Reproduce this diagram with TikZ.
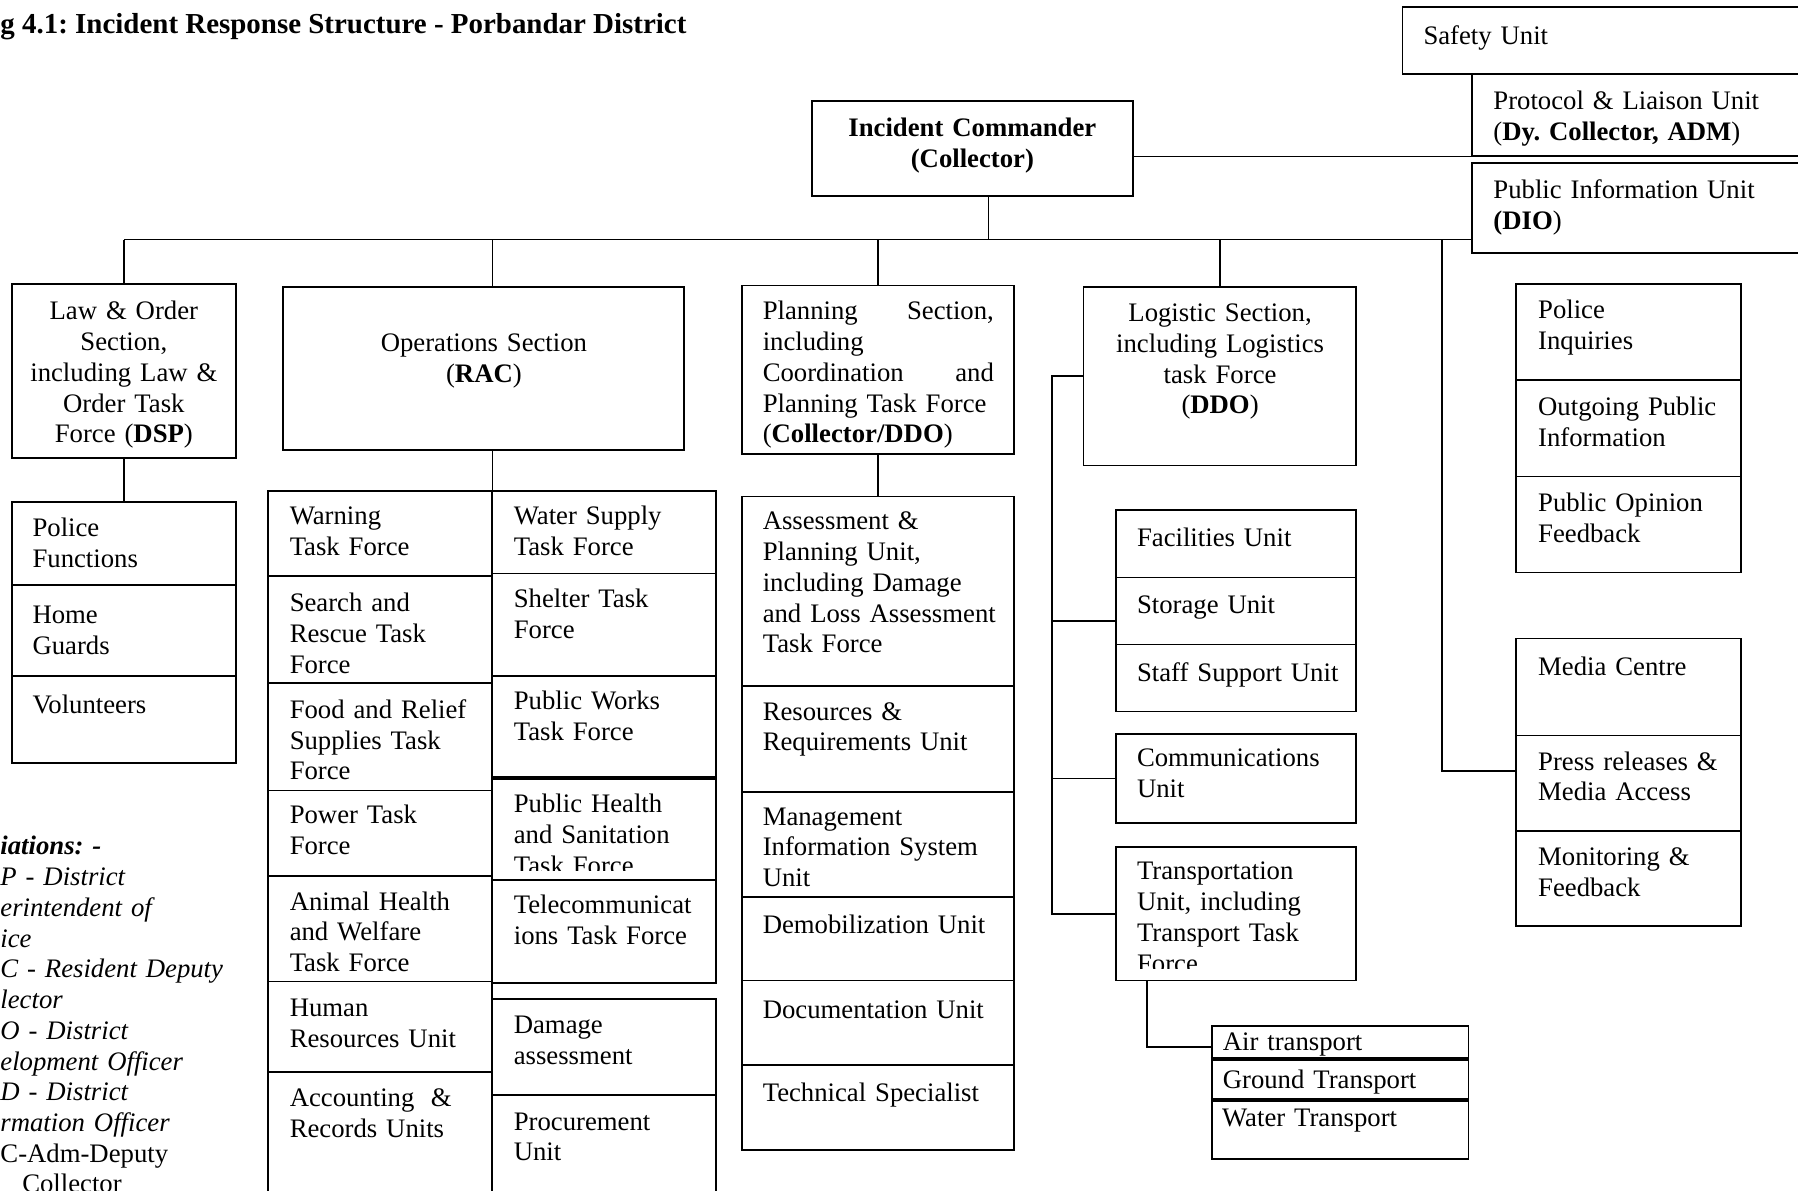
\documentclass[tikz,border=0pt]{standalone}
\usepackage{fontspec}
\setmainfont{Liberation Serif}
\usetikzlibrary{fit,calc}
\frenchspacing
\begin{document}
\begin{tikzpicture}[x=0.515pt,y=-0.515pt,
  every node/.style={inner sep=0pt, font=\fontsize{12}{13.8}\selectfont},
  cell/.style={draw, line width=0.75pt, fit={#1}},
  lt/.style={anchor=base west, align=left, text width=#1},
  ct/.style={anchor=base, align=center, text width=#1},
  link/.style={line width=0.75pt},
  sep/.style={line width=1.7pt}
]
\useasboundingbox (0,0) rectangle (1568,1038);
\clip (0,0) rectangle (1568,1038);
\fill[white] (0,0) rectangle (1568,1038);

% title
\node[anchor=base west, font=\fontsize{13}{15}\selectfont\bfseries] (title) at (0,29) {g 4.1: Incident Response Structure - Porbandar District};

% top right units
\node[cell={(1223,6.4) (1580,64.5)}] (safety) {};
\node[lt=140pt] (safety-t) at (1241,39.2) {Safety Unit};
\node[cell={(1283.4,64.5) (1580,135.8)}] (prot) {};
\node[lt=130pt] (prot-t) at (1302,95.9) {Protocol \& Liaison Unit\\(\textbf{Dy. Collector, ADM})};
\node[cell={(1283.4,141.9) (1580,220.9)}] (piu) {};
\node[lt=130pt] (piu-t) at (1302,173) {Public Information Unit\\\textbf{(DIO})};

% incident commander
\node[cell={(708,88) (988,171)}] (ic) {};
\node[ct=128pt, font=\fontsize{12}{13.8}\selectfont\bfseries] (ic-t) at (848,119) {Incident Commander\\(Collector)};

% law & order
\node[cell={(10.2,247.7) (205.8,399.7)}] (law) {};
\node[ct=98pt] (law-t) at (108,279) {Law \& Order\\Section,\\including Law \&\\Order Task\\Force (\textbf{DSP})};
\node[cell={(10.2,438) (205.8,510)}] (polf) {};
\node[lt=88pt] (polf-t) at (28,468) {Police\\Functions};
\node[cell={(10.2,510) (205.8,589.5)}] (home) {};
\node[lt=88pt] (home-t) at (28,543.6) {Home\\Guards};
\node[cell={(10.2,589.5) (205.8,665.5)}] (vol) {};
\node[lt=88pt] (vol-t) at (28,622) {Volunteers};

% abbreviations
\node[lt=118pt, font=\fontsize{12}{13.8}\selectfont\itshape] (abbr) at (0,745.6) {\textbf{iations: -}\\P - District\\erintendent of\\ice\\C - Resident Deputy\\lector\\O - District\\elopment Officer\\D - District\\rmation Officer\\\upshape C-Adm-Deputy\\\hspace*{9.8pt}Collector};

% operations
\node[cell={(247,250) (596.5,392.5)}] (ops) {};
\node[ct=150pt] (ops-t) at (422,306.7) {Operations Section\\(\textbf{RAC})};
\node[cell={(233.5,428.2) (428.8,502.3)}] (warn) {};
\node[lt=90pt] (warn-t) at (252.3,457.8) {Warning\\Task Force};
\node[cell={(233.5,502.3) (428.8,595.9)}] (sar) {};
\node[lt=90pt] (sar-t) at (252.3,533.4) {Search and\\Rescue Task\\Force};
\node[cell={(233.5,595.9) (428.8,689.5)}] (food) {};
\node[lt=90pt] (food-t) at (252.3,626.4) {Food and Relief\\Supplies Task\\Force};
\node[cell={(233.5,689.5) (428.8,764)}] (power) {};
\node[lt=90pt] (power-t) at (252.3,718) {Power Task\\Force};
\node[cell={(233.5,764) (428.8,856)}] (animal) {};
\node[lt=90pt] (animal-t) at (252.3,793.6) {Animal Health\\and Welfare\\Task Force};
\node[cell={(233.5,856) (428.8,934.6)}] (hr) {};
\node[lt=90pt] (hr-t) at (252.3,886.6) {Human\\Resources Unit};
\node[cell={(233.5,934.6) (428.8,1050)}] (acct) {};
\node[lt=90pt] (acct-t) at (252.3,965.1) {Accounting\hspace{0.62em}\&\\Records Units};

\node[cell={(428.8,428.2) (624.4,500)}] (water) {};
\node[lt=90pt] (water-t) at (447.7,457.8) {Water Supply\\Task Force};
\node[cell={(428.8,500) (624.4,589.5)}] (shelter) {};
\node[lt=90pt] (shelter-t) at (447.7,529.6) {Shelter Task\\Force};
\node[cell={(428.8,589.5) (624.4,677.6)}] (pworks) {};
\node[lt=90pt] (pworks-t) at (447.7,618.6) {Public Works\\Task Force};
\node[cell={(428.8,679.5) (624.4,767.4)}] (phealth) {};
\begin{scope}
\clip (428.8,679.5) rectangle (624.4,759);
\node[lt=90pt] (phealth-t) at (447.7,708.7) {Public Health\\and Sanitation\\Task Force};
\end{scope}
\node[cell={(428.8,767.4) (624.4,857)}] (telecom) {};
\node[lt=90pt] (telecom-t) at (447.7,797) {Telecommunicat\\ions Task Force};
\node[cell={(428.8,871) (624.4,955)}] (damage) {};
\node[lt=90pt] (damage-t) at (447.7,901.2) {Damage\\assessment};
\node[cell={(428.8,955) (624.4,1050)}] (procure) {};
\node[lt=90pt] (procure-t) at (447.7,985.5) {Procurement\\Unit};

% planning
\node[cell={(646.8,249) (884.3,396)}] (plan) {};
\node[lt=103.8pt] (plan-t) at (664.8,279) {Planning\hfill Section,\\including\\Coordination\hfill and\\Planning Task Force\\(\textbf{Collector/DDO})};
\node[cell={(646.8,433) (884.3,598.2)}] (assess) {};
\node[lt=110pt] (assess-t) at (664.8,462.2) {Assessment \&\\Planning Unit,\\including Damage\\and Loss Assessment\\Task Force};
\node[cell={(646.8,598.2) (884.3,690.4)}] (resreq) {};
\node[lt=110pt] (resreq-t) at (664.8,627.9) {Resources \&\\Requirements Unit};
\node[cell={(646.8,690.4) (884.3,782)}] (mis) {};
\node[lt=110pt] (mis-t) at (664.8,719.5) {Management\\Information System\\Unit};
\node[cell={(646.8,782) (884.3,855.2)}] (demob) {};
\node[lt=110pt] (demob-t) at (664.8,813.9) {Demobilization Unit};
\node[cell={(646.8,855.2) (884.3,928.8)}] (doc) {};
\node[lt=110pt] (doc-t) at (664.8,888) {Documentation Unit};
\node[cell={(646.8,928.8) (884.3,1002.9)}] (tech) {};
\node[lt=110pt] (tech-t) at (664.8,960.7) {Technical Specialist};

% logistics
\node[cell={(944.8,250) (1182.6,406)}] (log) {};
\node[ct=116pt] (log-t) at (1064,280.5) {Logistic Section,\\including Logistics\\task Force\\(\textbf{DDO})};
\node[cell={(973,444.8) (1182.6,503.5)}] (fac) {};
\node[lt=103pt] (fac-t) at (991.2,476.7) {Facilities Unit};
\node[cell={(973,503.5) (1182.6,562)}] (stor) {};
\node[lt=103pt] (stor-t) at (991.2,534.9) {Storage Unit};
\node[cell={(973,562) (1182.6,620.6)}] (staff) {};
\node[lt=103pt] (staff-t) at (991.2,594.5) {Staff Support Unit};
\node[cell={(973,640) (1182.6,718)}] (comm) {};
\node[lt=103pt] (comm-t) at (991.2,668.6) {Communications\\Unit};
\node[cell={(973,738.4) (1182.6,855.2)}] (trans) {};
\begin{scope}
\clip (973,738.4) rectangle (1182.6,845);
\node[lt=103pt] (trans-t) at (991.2,767.4) {Transportation\\Unit, including\\Transport Task\\Force};
\end{scope}
\node[cell={(1056.7,894.5) (1280.5,923)}] (air) {};
\node[lt=103pt] (air-t) at (1066,916.3) {Air transport};
\node[cell={(1056.7,923) (1280.5,958.7)}] (ground) {};
\node[lt=103pt] (ground-t) at (1066,949.1) {Ground Transport};
\node[cell={(1056.7,958.7) (1280.5,1010.7)}] (wtrans) {};
\node[lt=103pt] (wtrans-t) at (1065.4,982.5) {Water Transport};
\draw[sep] (air.south west) -- (air.south east);
\draw[sep] (ground.south west) -- (ground.south east);

% public information side
\node[cell={(1322,247.6) (1518,331.6)}] (pinq) {};
\node[lt=88pt] (pinq-t) at (1341,277.8) {Police\\Inquiries};
\node[cell={(1322,331.6) (1518,415.4)}] (outg) {};
\node[lt=88pt] (outg-t) at (1341,362.4) {Outgoing Public\\Information};
\node[cell={(1322,415.4) (1518,499.4)}] (popin) {};
\node[lt=88pt] (popin-t) at (1341,446) {Public Opinion\\Feedback};
\node[cell={(1322,556.7) (1518,641.3)}] (media) {};
\node[lt=88pt] (media-t) at (1341,588.7) {Media Centre};
\node[cell={(1322,641.3) (1518,724.9)}] (press) {};
\node[lt=88pt] (press-t) at (1341,671.5) {Press releases \&\\Media Access};
\node[cell={(1322,724.9) (1518,807.6)}] (monit) {};
\node[lt=88pt] (monit-t) at (1341,755) {Monitoring \&\\Feedback};

% connectors
\coordinate (busy) at (0,209);
\coordinate (icdrop) at ($(ic.south)+(14,0)$);
\coordinate (rdrop) at (1257.5,209);
\coordinate (pressin) at ($(press.west)+(0,-10.5)$);
\coordinate (bx) at (917.4,0);
\coordinate (storin) at ($(stor.west)+(0,9)$);
\coordinate (tdrop) at ($(trans.south west)+(28,0)$);
\coordinate (airin) at ($(air.west)+(0,4.5)$);

\draw[link] (ic.east |- prot.south) -- (prot.south west);
\draw[link] (icdrop) -- (icdrop |- busy);
\draw[link] (law.north |- busy) -- (piu.west |- busy);
\draw[link] (law.north |- busy) -- (law.north);
\draw[link] (warn.north east |- busy) -- (ops.north -| warn.north east);
\draw[link] (plan.north |- busy) -- (plan.north);
\draw[link] (log.north |- busy) -- (log.north);
\draw[link] (rdrop) |- (pressin);
\draw[link] (law.south) -- (polf.north);
\draw[link] (ops.south -| warn.north east) -- (warn.north east);
\draw[link] (plan.south) -- (plan.south |- assess.north);
\draw[link] (log.west) -- (log.west -| bx) -- (trans.west -| bx) -- (trans.west);
\draw[link] (storin -| bx) -- (storin);
\draw[link] (comm.west -| bx) -- (comm.west);
\draw[link] (tdrop) |- (airin);
\end{tikzpicture}
\end{document}
